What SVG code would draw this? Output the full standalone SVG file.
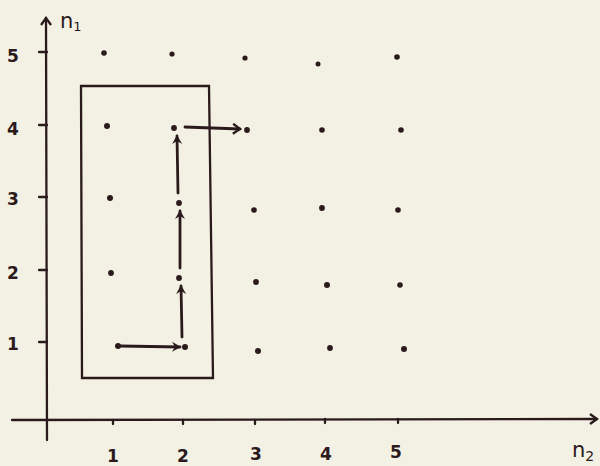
<svg xmlns="http://www.w3.org/2000/svg" width="600" height="466" viewBox="0 0 600 466">
<defs>
<style>
.ln{stroke:#2b1a1c;stroke-width:2.3;fill:none;stroke-linecap:round}
.ar{stroke:#2b1a1c;stroke-width:2.8;fill:none;stroke-linecap:round}
.dot{fill:#2b1a1c}
text{font-family:"DejaVu Sans","Liberation Sans",sans-serif;font-size:17px;font-weight:bold;fill:#2b1a1c}
text.var{font-weight:normal;font-size:21px}
</style>
<marker id="open" markerWidth="12" markerHeight="12" refX="9" refY="6" orient="auto" markerUnits="userSpaceOnUse">
<path d="M2,1 L9,6 L2,11" fill="none" stroke="#2b1a1c" stroke-width="2.3"/>
</marker>
<marker id="head" markerWidth="12" markerHeight="12" refX="9" refY="6" orient="auto" markerUnits="userSpaceOnUse">
<path d="M1,1 L10,6 L1,11 L4,6 Z" fill="#2b1a1c"/>
</marker>
</defs>
<rect width="600" height="466" fill="#f3f1e4"/>
<g id="axes">
<line class="ln" x1="47" y1="440" x2="46" y2="18" marker-end="url(#open)"/>
<line class="ln" x1="12" y1="420" x2="597" y2="419" marker-end="url(#open)"/>
<path class="ln" d="M39,52 H47 M39,125 H47 M39,197 H47 M39,270 H47 M39,342 H47"/>
<path class="ln" d="M113,420 V424 M183,420 V424 M255,420 V424 M325,419 V423 M398,419 V423"/>
<text x="7" y="62">5</text>
<text x="7" y="135">4</text>
<text x="7" y="205">3</text>
<text x="7" y="279">2</text>
<text x="7" y="350">1</text>
<text x="107" y="462">1</text>
<text x="177" y="462">2</text>
<text x="250" y="460">3</text>
<text x="320" y="460">4</text>
<text x="390" y="458">5</text>
<text class="var" x="60" y="28">n<tspan font-size="13" dy="3">1</tspan></text>
<text class="var" x="572" y="457">n<tspan font-size="14" dy="4">2</tspan></text>
</g>
<g id="box">
<path class="ln" d="M81,86 L209,86 L213,378 L82,378 Z"/>
</g>
<g id="points">
<circle class="dot" cx="104" cy="53" r="2.8"/>
<circle class="dot" cx="172" cy="54" r="2.6"/>
<circle class="dot" cx="245" cy="58" r="2.6"/>
<circle class="dot" cx="318" cy="64" r="2.5"/>
<circle class="dot" cx="397" cy="57" r="2.8"/>
<circle class="dot" cx="107" cy="126" r="3"/>
<circle class="dot" cx="174" cy="128" r="2.9"/>
<circle class="dot" cx="247" cy="130" r="2.9"/>
<circle class="dot" cx="322" cy="130" r="2.8"/>
<circle class="dot" cx="401" cy="130" r="2.8"/>
<circle class="dot" cx="110" cy="198" r="3"/>
<circle class="dot" cx="179" cy="203" r="2.9"/>
<circle class="dot" cx="254" cy="210" r="2.8"/>
<circle class="dot" cx="322" cy="208" r="2.9"/>
<circle class="dot" cx="398" cy="210" r="2.8"/>
<circle class="dot" cx="111" cy="273" r="2.9"/>
<circle class="dot" cx="179" cy="278" r="2.9"/>
<circle class="dot" cx="256" cy="282" r="2.9"/>
<circle class="dot" cx="327" cy="285" r="3"/>
<circle class="dot" cx="400" cy="285" r="2.8"/>
<circle class="dot" cx="118" cy="346" r="3"/>
<circle class="dot" cx="185" cy="347" r="3"/>
<circle class="dot" cx="258" cy="351" r="3"/>
<circle class="dot" cx="330" cy="348" r="2.9"/>
<circle class="dot" cx="404" cy="349" r="3"/>
</g>
<g id="connectors">
<path class="ar" d="M120,346 L180,347" marker-end="url(#head)"/>
<path class="ar" d="M182,337 L181,286" marker-end="url(#head)"/>
<path class="ar" d="M180,268 L180,211" marker-end="url(#head)"/>
<path class="ar" d="M178,193 L177,136" marker-end="url(#head)"/>
<path class="ar" d="M185,127 L240,129" marker-end="url(#open)"/>
</g>
</svg>
